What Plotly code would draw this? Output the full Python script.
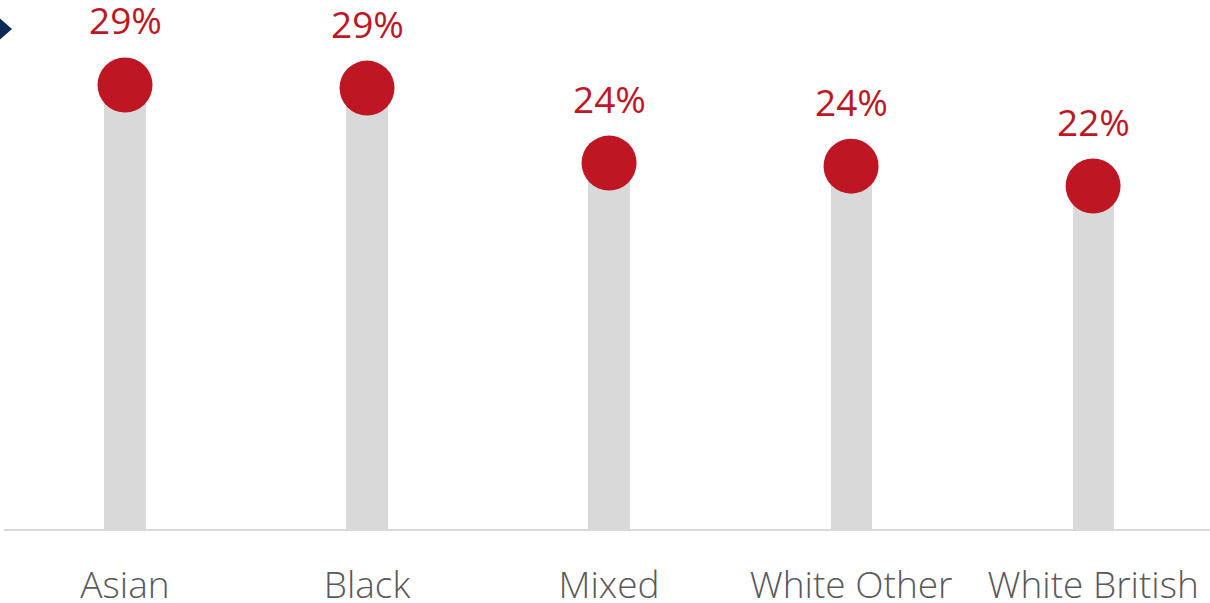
import plotly.graph_objects as go

categories = ["Asian", "Black", "Mixed", "White Other", "White British"]
values = [29.0, 28.8, 23.9, 23.7, 22.4]
labels = [f"{v:.0f}%" for v in values]

RED = "#BE1723"
GREY = "#D9D9D9"

fig = go.Figure()
fig.add_trace(go.Bar(x=categories, y=values, width=0.17, marker=dict(color=GREY, line=dict(width=0)),
                     hoverinfo="skip"))
fig.add_trace(go.Scatter(x=categories, y=values, mode="markers",
                         marker=dict(size=55, color=RED, line=dict(width=0)), cliponaxis=False))

for c, v, t in zip(categories, values, labels):
    fig.add_annotation(x=c, y=v, text=t, showarrow=False, yanchor="middle", yshift=65,
                       font=dict(family="Open Sans, Noto Sans, sans-serif", size=37, color=RED))

# small navy chevron at top-left (pixel-sized, anchored at plot top-left)
fig.add_shape(type="path", xref="paper", yref="paper", xsizemode="pixel", ysizemode="pixel",
              xanchor=0, yanchor=1,
              path="M -8 -15 L 8 -29 L -8 -43 Z",
              fillcolor="#0B2B57", line=dict(width=0), layer="above")

fig.update_layout(
    width=1210, height=603,
    margin=dict(l=4, r=0, t=0, b=74, autoexpand=False),
    plot_bgcolor="white", paper_bgcolor="white",
    showlegend=False,
    bargap=0,
)
fig.update_xaxes(range=[-0.5, 4.483], showline=True, linecolor=GREY, linewidth=2,
                 showgrid=False, ticks="", ticklabelstandoff=23, automargin=False,
                 tickfont=dict(family="Open Sans, Noto Sans, sans-serif", size=37, color="#595959", weight=300))
fig.update_yaxes(range=[0, 34.55], visible=False, showgrid=False, zeroline=False, automargin=False)

fig.write_html("out.html", config={"displayModeBar": False},
               post_script="document.body.style.margin='0';")
